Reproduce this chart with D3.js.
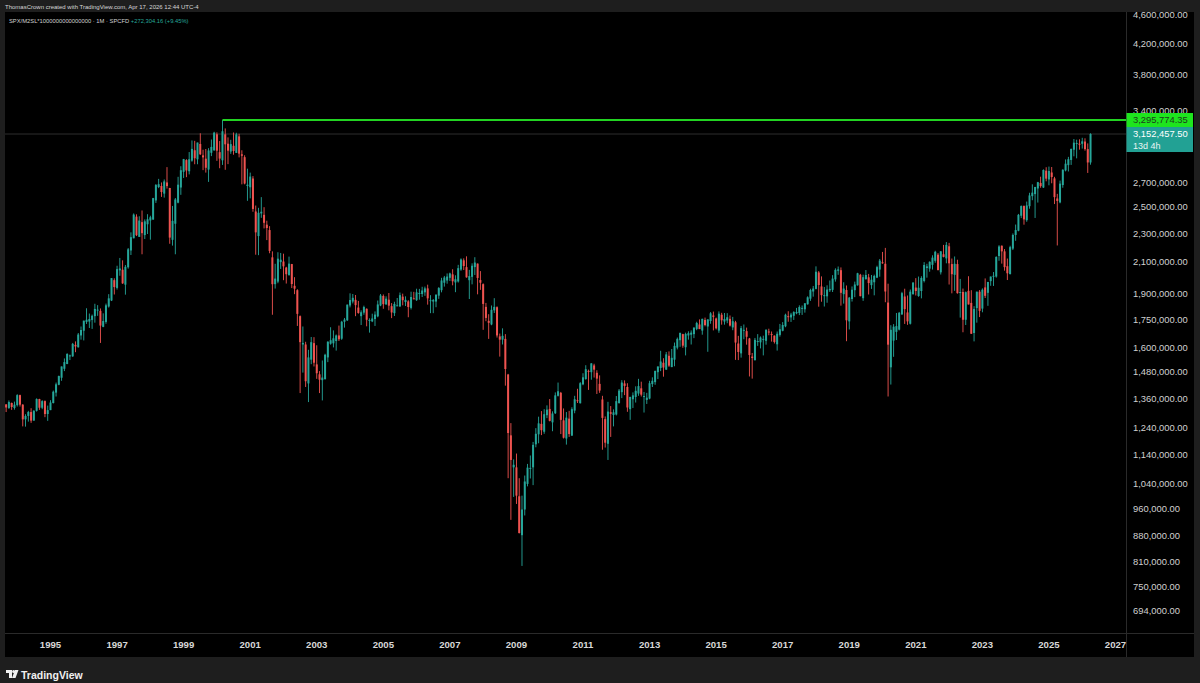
<!DOCTYPE html>
<html><head><meta charset="utf-8">
<script src="https://cdn.jsdelivr.net/npm/d3@7"></script>
<style>html,body{margin:0;padding:0;background:#1e1e1e;overflow:hidden}svg{display:block}</style>
</head><body><svg id="c" width="1200" height="683"></svg>
<script>
// ---- DATA: SPX / M2SL monthly candles, values in thousands ----
const firstYear = 1993, firstMonth = 9; // first candle: Sep 1993
const opens = [
1336,1321,1342,1321,
1333,1376,1335,1274,1288,1304,1269,1309,1359,1322,1350,1296,
1312,1342,1387,1422,1454,1496,1519,1561,1556,1614,1602,1663,
1688,1736,1738,1747,1768,1801,1798,1709,1736,1823,1858,1982,
1934,2045,2049,1954,2065,2178,2264,2425,2274,2383,2287,2367,
2396,2403,2553,2664,2673,2609,2703,2656,2253,2371,2535,2660,
2796,2902,2801,2897,2994,2909,3054,2946,2915,2816,2970,2993,
3150,2976,2900,3149,3057,2982,3037,2969,3129,2956,2929,2673,
2662,2737,2465,2280,2450,2439,2364,2324,2131,1957,1973,2099,
2103,2063,2015,2086,1947,1920,1768,1616,1616,1428,1540,1623,
1517,1470,1443,1447,1551,1620,1622,1634,1663,1646,1737,1745,
1829,1852,1862,1817,1768,1788,1810,1743,1739,1752,1767,1829,
1885,1835,1863,1825,1785,1830,1824,1881,1849,1853,1815,1871,
1860,1902,1897,1907,1931,1859,1852,1852,1887,1920,1966,1980,
1997,2019,1968,1974,2050,2111,2066,1982,2003,2066,2089,1983,
1957,1821,1742,1722,1801,1819,1658,1641,1645,1469,1211,1094,
1094,998,882,957,1038,1092,1094,1177,1215,1256,1225,1291,
1317,1262,1299,1373,1386,1270,1199,1277,1210,1310,1354,1341,
1424,1448,1486,1480,1512,1477,1426,1357,1275,1179,1303,1292,
1294,1342,1389,1428,1412,1316,1358,1368,1383,1406,1368,1355,
1361,1425,1434,1480,1500,1525,1492,1559,1504,1540,1600,1638,
1670,1602,1663,1667,1670,1698,1722,1689,1747,1711,1741,1772,
1755,1689,1776,1738,1744,1753,1706,1734,1621,1571,1692,1686,
1647,1555,1538,1629,1627,1643,1635,1684,1671,1662,1617,1666,
1688,1712,1768,1761,1770,1784,1786,1814,1807,1836,1869,1912,
1928,2031,1943,1885,1883,1919,1922,1987,2042,2046,1896,1921,
1739,1867,1920,1950,2016,1872,1989,2000,1951,1969,1998,2050,
2098,2088,1846,1503,1636,1682,1694,1778,1882,1789,1726,1896,
1936,1885,1915,1977,2060,2056,2081,2108,2149,2032,2152,2124,
2207,2086,2016,2086,1909,1909,1748,1916,1844,1676,1814,1911,
1811,1937,1904,1976,2005,2005,2140,2211,2172,2072,2021,2191,
2288,2319,2432,2508,2398,2507,2588,2605,2652,2699,2660,2806,
2729,2790,2738,2569,2537,2681,2808,2856,2903,2999,3060,3057,
3056,3078,3005,2880.15];
const highs = [
1337,1353,1344,1348,
1380,1378,1337,1295,1309,1320,1312,1362,1360,1354,1353,1331,
1354,1396,1432,1464,1507,1546,1572,1565,1624,1632,1676,1711,
1743,1813,1783,1777,1839,1831,1812,1784,1840,1896,1995,1994,
2075,2127,2111,2080,2195,2307,2450,2443,2428,2473,2404,2444,
2432,2574,2690,2734,2703,2729,2838,2657,2509,2573,2752,2846,
2913,2910,2977,3089,3085,3068,3160,2999,3006,3014,3098,3175,
3169,3083,3295.77435,3209,3119,3095,3168,3165,3155,2994,2947,2824,
2789,2758,2512,2494,2580,2499,2394,2353,2172,2088,2166,2161,
2156,2068,2136,2087,2001,1926,1772,1711,1630,1589,1655,1654,
1612,1485,1536,1569,1633,1707,1690,1668,1716,1742,1758,1834,
1901,1897,1891,1856,1801,1828,1812,1756,1782,1795,1858,1897,
1894,1883,1903,1843,1851,1873,1906,1899,1883,1860,1911,1910,
1929,1928,1941,1942,1954,1890,1867,1896,1939,1997,2009,2025,
2030,2052,2013,2081,2124,2124,2138,2048,2091,2132,2090,2040,
1962,1844,1779,1829,1872,1824,1673,1701,1670,1472,1259,1122,
1143,1057,1000,1066,1106,1136,1186,1239,1285,1308,1316,1332,
1359,1307,1388,1432,1390,1319,1304,1309,1324,1373,1404,1434,
1475,1513,1492,1523,1520,1489,1465,1373,1286,1347,1329,1315,
1372,1403,1443,1442,1429,1369,1388,1415,1449,1436,1390,1386,
1440,1456,1487,1507,1584,1547,1578,1581,1593,1626,1652,1677,
1672,1678,1685,1690,1706,1737,1750,1754,1760,1750,1791,1794,
1760,1795,1787,1786,1785,1772,1764,1742,1661,1714,1722,1705,
1650,1573,1650,1670,1658,1662,1696,1699,1684,1663,1684,1725,
1735,1782,1796,1787,1796,1815,1830,1829,1842,1883,1929,1946,
2071,2040,2006,1940,1950,1980,2014,2058,2070,2064,1969,1949,
1879,1943,1973,2029,2022,2017,2047,2022,2015,2017,2075,2120,
2168,2196,1960,1718,1724,1786,1792,1910,1929,1888,1924,1969,
1995,2005,2007,2099,2088,2104,2145,2176,2160,2174,2217,2237,
2231,2123,2137,2115,1990,1930,1912,2007,1920,1825,1911,1921,
1931,1993,1971,2005,2034,2138,2215,2213,2188,2123,2211,2299,
2365,2446,2513,2513,2544,2616,2687,2666,2708,2753,2818,2837,
2843,2839,2752,2607,2719,2819,2908,2932,3011,3103,3096,3100,
3115,3110,3060,3160];
const lows = [
1304,1317,1313,1314,
1327,1327,1246,1245,1265,1260,1269,1306,1313,1316,1283,1268,
1312,1340,1370,1420,1440,1485,1518,1538,1554,1577,1600,1641,
1637,1725,1703,1698,1732,1770,1624,1707,1726,1817,1855,1894,
1924,2010,1959,1893,2056,2147,2264,2280,2274,2152,2259,2295,
2254,2400,2533,2655,2582,2576,2651,2225,2212,2152,2530,2599,
2742,2749,2773,2887,2864,2864,2950,2811,2789,2708,2939,2990,
2895,2828,2858,2814,2865,2960,2952,2968,2927,2687,2687,2550,
2570,2463,2149,2146,2416,2336,2251,2159,1776,1930,1963,2054,
1982,1961,2010,1933,1896,1714,1385,1478,1412,1346,1518,1507,
1449,1385,1353,1447,1528,1615,1601,1585,1634,1640,1705,1741,
1818,1841,1768,1782,1719,1776,1712,1678,1735,1714,1762,1825,
1810,1834,1801,1757,1769,1825,1820,1830,1826,1762,1806,1866,
1856,1863,1879,1886,1834,1785,1785,1819,1868,1907,1942,1960,
1977,1950,1908,1967,2042,2047,1998,1867,1956,2015,1895,1922,
1693,1740,1645,1718,1786,1652,1555,1616,1418,1057,926,996,
974,887,800,939,1030,1056,1034,1166,1181,1212,1217,1279,
1266,1227,1296,1370,1216,1199,1176,1205,1209,1299,1342,1340,
1420,1445,1399,1445,1455,1381,1386,1157,1165,1120,1205,1246,
1290,1339,1363,1376,1305,1272,1321,1344,1373,1370,1302,1338,
1358,1412,1422,1448,1485,1459,1491,1505,1504,1508,1591,1604,
1599,1561,1641,1616,1649,1691,1697,1667,1712,1579,1726,1690,
1695,1677,1721,1721,1729,1711,1691,1539,1538,1550,1643,1615,
1460,1450,1535,1609,1596,1561,1615,1664,1631,1621,1585,1657,
1685,1707,1737,1736,1747,1779,1774,1775,1788,1834,1856,1881,
1925,1822,1851,1823,1845,1909,1909,1973,2016,1828,1840,1633,
1695,1852,1878,1948,1883,1856,1985,1894,1928,1889,1995,2004,
2088,1848,1370,1423,1554,1639,1690,1775,1725,1720,1722,1893,
1888,1880,1871,1968,1998,2036,2050,2095,2046,2018,2131,2091,
1955,1901,1916,1899,1760,1680,1719,1835,1671,1632,1732,1763,
1790,1873,1827,1947,1946,1998,2108,2089,2043,1983,2018,2181,
2246,2315,2414,2364,2386,2487,2555,2415,2536,2658,2656,2713,
2679,2696,2524,2213,2530,2658,2800,2799,2858,2937,2918,3000,
3010,2990,2786,2860];
const closes = [
1323,1346,1325,1335,
1376,1335,1274,1288,1304,1269,1309,1359,1322,1350,1296,1312,
1344,1391,1424,1462,1507,1528,1568,1561,1619,1606,1668,1692,
1743,1748,1752,1770,1809,1805,1716,1741,1830,1871,1995,1939,
2053,2057,1962,2068,2186,2272,2441,2286,2395,2301,2389,2405,
2420,2572,2681,2688,2622,2712,2672,2269,2393,2561,2684,2810,
2911,2808,2910,3007,2919,3068,2956,2927,2832,2992,3026,3166,
2990,2916,3180,3051,2990,3053,2987,3149,2962,2942,2694,2684,
2754,2485,2307,2455,2463,2378,2339,2175,1957,1992,2122,2115,
2071,2020,2089,1958,1929,1781,1628,1624,1438,1551,1628,1525,
1475,1445,1455,1564,1630,1638,1648,1663,1643,1737,1749,1834,
1861,1874,1831,1786,1790,1820,1748,1747,1755,1777,1835,1888,
1837,1869,1828,1789,1838,1830,1890,1860,1862,1820,1879,1869,
1907,1903,1918,1931,1871,1860,1861,1892,1933,1980,1999,2005,
2025,1975,1988,2059,2117,2073,2000,2008,2075,2096,1996,1966,
1838,1758,1731,1804,1821,1663,1641,1661,1495,1220,1120,1103,
1000,888,957,1046,1093,1092,1175,1217,1258,1231,1295,1314,
1268,1298,1375,1393,1272,1202,1281,1216,1316,1358,1351,1429,
1456,1494,1485,1522,1492,1450,1396,1280,1183,1306,1297,1303,
1350,1396,1432,1417,1323,1368,1375,1395,1416,1378,1372,1365,
1429,1440,1486,1507,1531,1502,1566,1511,1549,1609,1645,1677,
1610,1671,1675,1678,1705,1730,1697,1753,1719,1750,1784,1764,
1701,1782,1745,1752,1762,1716,1740,1626,1578,1702,1693,1656,
1563,1548,1640,1634,1652,1645,1693,1682,1669,1629,1672,1696,
1719,1776,1767,1777,1791,1792,1820,1815,1842,1877,1921,1930,
2036,1952,1890,1890,1924,1928,1992,2048,2051,1904,1930,1745,
1875,1923,1955,2026,1884,2001,2015,1964,1985,2009,2066,2109,
2095,1912,1615,1693,1710,1713,1787,1902,1808,1739,1911,1967,
1915,1935,1996,2080,2071,2101,2129,2169,2046,2172,2134,2217,
2091,2020,2088,1902,1909,1748,1908,1835,1672,1809,1911,1798,
1923,1886,1971,2005,2010,2134,2206,2172,2066,2026,2201,2288,
2324,2439,2508,2404,2513,2594,2617,2664,2705,2672,2812,2736,
2803,2750,2580,2549,2693,2814,2869,2910,3006,3067,3064,3056,
3080,3005,2880.15,3152.4575];
const UNIT = 1000;
const priceTicks = [4600000,4200000,3800000,3400000,2700000,2500000,2300000,2100000,1900000,1750000,1600000,1480000,1360000,1240000,1140000,1040000,960000,880000,810000,750000,694000];
const yearTicks = [1995,1997,1999,2001,2003,2005,2007,2009,2011,2013,2015,2017,2019,2021,2023,2025,2027];
const athValue = 3295774.35;
const lastValue = 3152457.50;
const lastChange = 272304.16, lastChangePct = 9.45;
const countdown = "13d 4h";
const headerText = "ThomasCrown created with TradingView.com, Apr 17, 2026 12:44 UTC-4";
const symbolText = "SPX/M2SL*1000000000000000 · 1M · SPCFD";

// ---- LAYOUT ----
const W = 1200, H = 683;
const pane = {x0: 5, x1: 1126, y0: 12, y1: 633};
const priceAxisRight = 1194, timeAxisBottom = 657;
const UP = "#26a69a", DOWN = "#ef5350";
const FONT = "'Liberation Sans', Arial, sans-serif";

const svg = d3.select("#c");
const monthIndex = i => (firstYear - 1995) * 12 + (firstMonth - 1) + i; // months since Jan 1995
const x = d3.scaleLinear().domain([0, (2027 - 1995) * 12]).range([50.5, 1115.5]);
const y = d3.scaleLog().domain([694000, 4600000]).range([610.7, 15]);

// background panels
svg.append("rect").attr("width", W).attr("height", H).attr("fill", "#1e1e1e");
svg.append("rect").attr("x", pane.x0).attr("y", pane.y0).attr("width", priceAxisRight - pane.x0).attr("height", timeAxisBottom - pane.y0).attr("fill", "#000");
svg.append("line").attr("x1", pane.x1 + 0.5).attr("x2", pane.x1 + 0.5).attr("y1", pane.y0).attr("y2", timeAxisBottom).attr("stroke", "#2a2a2a");
svg.append("line").attr("x1", pane.x0).attr("x2", priceAxisRight).attr("y1", pane.y1 + 0.5).attr("y2", pane.y1 + 0.5).attr("stroke", "#2a2a2a");

// header
svg.append("text").attr("x", 5).attr("y", 8.5).attr("fill", "#d6d6d6").attr("font-family", FONT).attr("font-size", 6).text(headerText);

// clip
svg.append("clipPath").attr("id", "pclip").append("rect").attr("x", pane.x0).attr("y", pane.y0).attr("width", pane.x1 - pane.x0).attr("height", pane.y1 - pane.y0);
const plot = svg.append("g").attr("clip-path", "url(#pclip)");

// current price line
plot.append("line").attr("x1", pane.x0).attr("x2", pane.x1).attr("y1", y(lastValue)).attr("y2", y(lastValue))
  .attr("stroke", "#2e2e2e").attr("stroke-width", 1);

// candles
const data = closes.map((c, i) => ({m: monthIndex(i), o: opens[i] * UNIT, h: highs[i] * UNIT, l: lows[i] * UNIT, c: c * UNIT}));
const cg = plot.append("g");
cg.selectAll("rect.wick").data(data).join("rect").attr("class", "wick")
  .attr("x", d => x(d.m) - 0.45).attr("width", 0.9)
  .attr("y", d => y(d.h)).attr("height", d => Math.max(0.5, y(d.l) - y(d.h)))
  .attr("fill", d => d.c >= d.o ? UP : DOWN);
cg.selectAll("rect.body").data(data).join("rect").attr("class", "body")
  .attr("x", d => x(d.m) - 1).attr("width", 2)
  .attr("y", d => y(Math.max(d.o, d.c))).attr("height", d => Math.max(1, Math.abs(y(d.o) - y(d.c))))
  .attr("fill", d => d.c >= d.o ? UP : DOWN);

// ATH horizontal line
const athIdx = highs.indexOf(d3.max(highs));
plot.append("line").attr("x1", x(monthIndex(athIdx))).attr("x2", pane.x1).attr("y1", y(athValue)).attr("y2", y(athValue))
  .attr("stroke", "#22d322").attr("stroke-width", 1.8);

// price axis
const fmt = d3.format(",.2f");
const pa = svg.append("g");
pa.selectAll("text").data(priceTicks).join("text")
  .attr("x", 1133).attr("y", d => y(d) + 3.3)
  .attr("fill", "#d0d0d0").attr("font-family", FONT).attr("font-size", 9.4)
  .text(d => fmt(d));

// time axis
svg.append("g").selectAll("text").data(yearTicks).join("text")
  .attr("x", d => x((d - 1995) * 12)).attr("y", 647.5).attr("text-anchor", "middle")
  .attr("fill", "#d8d8d8").attr("font-family", FONT).attr("font-size", 9.6).attr("font-weight", "bold")
  .text(d => d);

// ATH label box
const ay = y(athValue);
svg.append("rect").attr("x", pane.x1 + 0.5).attr("y", ay - 7).attr("width", priceAxisRight - pane.x1 - 1.5).attr("height", 14).attr("fill", "#1ee51e");
svg.append("text").attr("x", 1133).attr("y", ay + 3.4).attr("fill", "#1d3b1d").attr("font-family", FONT).attr("font-size", 9.4).text(fmt(athValue));
// last price box
svg.append("rect").attr("x", pane.x1 + 0.5).attr("y", ay + 7).attr("width", priceAxisRight - pane.x1 - 1.5).attr("height", 25).attr("fill", "#22a194");
svg.append("text").attr("x", 1133).attr("y", y(lastValue) + 3.4).attr("fill", "#ffffff").attr("font-family", FONT).attr("font-size", 9.4).text(fmt(lastValue));
svg.append("text").attr("x", 1133).attr("y", y(lastValue) + 15).attr("fill", "#e8f5f3").attr("font-family", FONT).attr("font-size", 9).text(countdown);

// legend
const lg = svg.append("text").attr("x", 9).attr("y", 23).attr("font-family", FONT).attr("font-size", 5.8);
lg.append("tspan").attr("fill", "#d0d0d0").text(symbolText + "  ");
lg.append("tspan").attr("fill", UP).text("+" + d3.format(",.2f")(lastChange) + " (+" + lastChangePct.toFixed(2) + "%)");

// footer logo
const logo = svg.append("g").attr("transform", "translate(6,670)");
logo.append("path").attr("d", "M0,0 H6 V8 H3 V3 H0 Z").attr("fill", "#f0f0f0");
logo.append("circle").attr("cx", 7.6).attr("cy", 1.6).attr("r", 1.5).attr("fill", "#f0f0f0");
logo.append("path").attr("d", "M9,0 H12.5 L9.5,8 H6 Z").attr("fill", "#f0f0f0");
svg.append("text").attr("x", 21).attr("y", 678.5).attr("fill", "#f0f0f0").attr("font-family", FONT).attr("font-size", 10.5).attr("font-weight", "bold").text("TradingView");
</script></body></html>
